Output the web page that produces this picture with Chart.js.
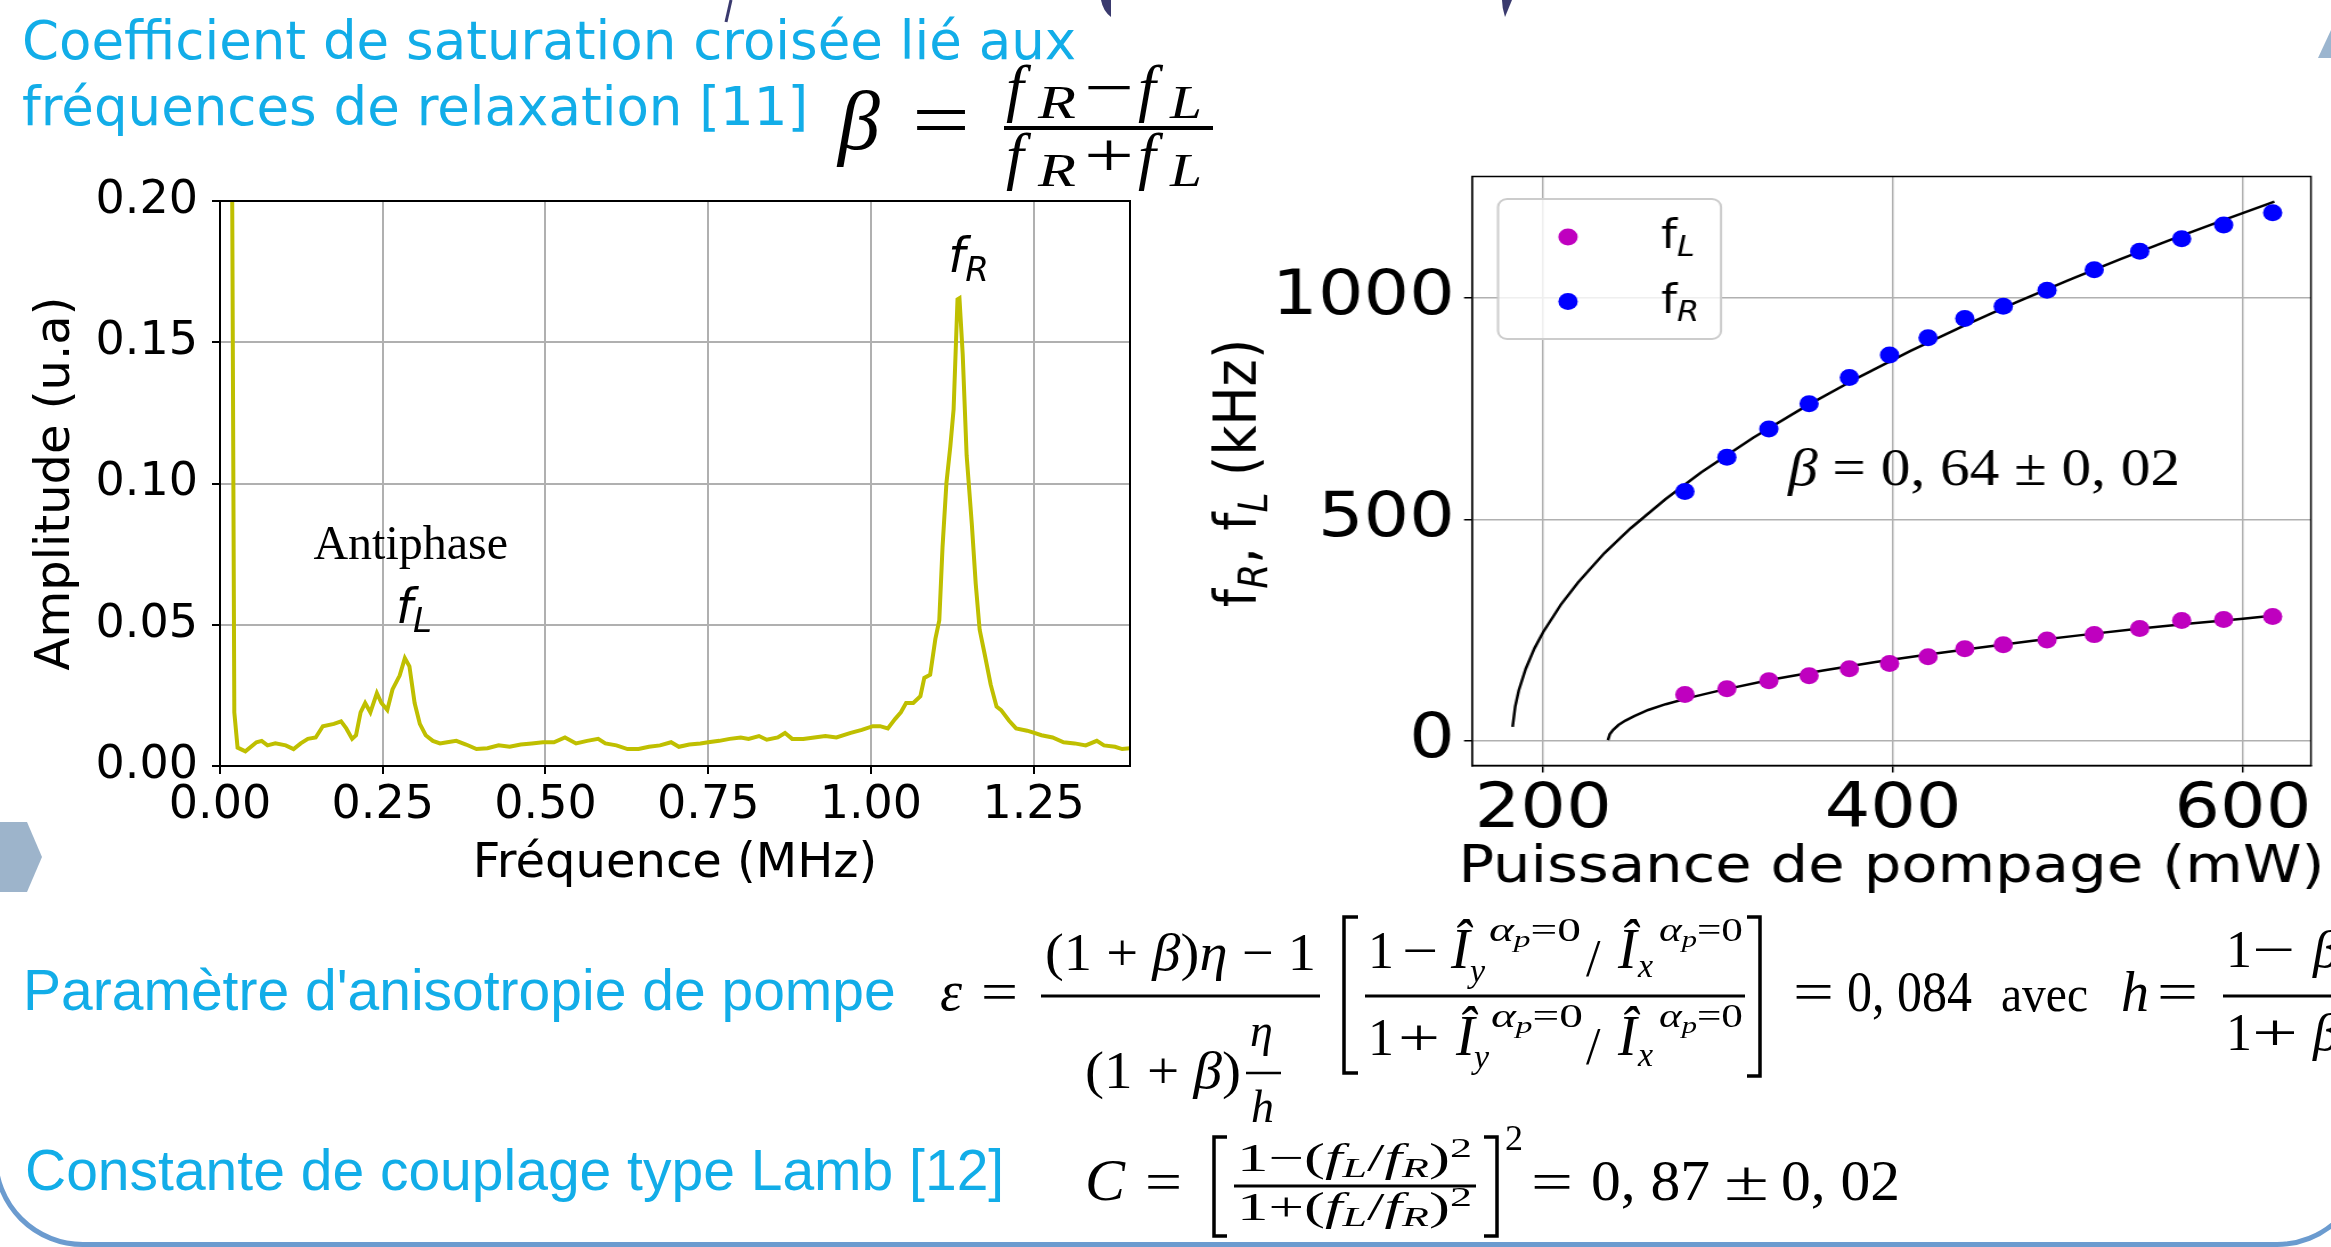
<!DOCTYPE html>
<html lang="fr">
<head>
<meta charset="utf-8">
<title>Coefficient de saturation croisée</title>
<script src="https://cdn.jsdelivr.net/npm/chart.js@4.4.1/dist/chart.umd.min.js"></script>
<style>
  html, body { margin: 0; padding: 0; background: #fff; }
  #slide { position: relative; width: 2331px; height: 1247px; overflow: hidden; background: #fff; }
  .frame { position: absolute; left: -7px; top: -300px; width: 2374px; height: 1547px; box-sizing: border-box;
           border: 5px solid #6b9bcf; border-radius: 90px; }
  #spectrumWrap { position: absolute; left: 0; top: 0; width: 1160px; height: 900px; }
  #powerWrap { position: absolute; left: 1160px; top: 0; width: 1027px; height: 900px;
               transform: scaleX(1.14); transform-origin: 0 0; }
  svg.overlay { position: absolute; left: 0; top: 0; pointer-events: none; }
</style>
</head>
<body>
<div id="slide">
  <div class="frame"></div>

  <div id="spectrumWrap"><canvas id="spectrumChart" width="1160" height="900"></canvas></div>
  <div id="powerWrap"><canvas id="powerChart" width="1027" height="900"></canvas></div>

  <svg class="overlay" width="2331" height="1247" viewBox="0 0 2331 1247">
    <!-- slide decorations -->
    <line x1="731" y1="0" x2="726" y2="22" stroke="#3a3a6e" stroke-width="3"/>
    <path d="M1101,0 L1111,0 L1111,17 Q1103,11 1101,0 Z" fill="#3a3a6e"/>
    <path d="M1502,0 L1512,0 L1505,17 Q1502,8 1502,0 Z" fill="#3a3a6e"/>
    <polygon points="2318,58 2331,30 2331,58" fill="#9bb5cf"/>
    <polygon points="0,822 27,822 42,857 27,892 0,892" fill="#9db4cb"/>

    <!-- titles -->
    <g font-family="DejaVu Sans" font-size="53" fill="#12ade8">
      <text x="22" y="59">Coefficient de saturation croisée lié aux</text>
      <text x="22" y="125">fréquences de relaxation [11]</text>
    </g>
    <g font-family="Liberation Sans" font-size="57" fill="#12ade8">
      <text x="23" y="1010">Paramètre d'anisotropie de pompe</text>
      <text x="25" y="1190">Constante de couplage type Lamb [12]</text>
    </g>

    <g font-family="Liberation Serif" fill="#000" stroke="none">
      <!-- beta = (fR - fL)/(fR + fL) -->
      <text x="838" y="149" font-size="84" font-style="italic">β</text>
      <text x="912" y="147" font-size="80" textLength="58" lengthAdjust="spacingAndGlyphs">=</text>
      <text x="1006" y="109" font-size="64" font-style="italic">f</text>
      <text x="1038" y="118" font-size="46" font-style="italic" textLength="38" lengthAdjust="spacingAndGlyphs">R</text>
      <text x="1084" y="109" font-size="64" textLength="50" lengthAdjust="spacingAndGlyphs">−</text>
      <text x="1138" y="109" font-size="64" font-style="italic">f</text>
      <text x="1170" y="118" font-size="46" font-style="italic" textLength="32" lengthAdjust="spacingAndGlyphs">L</text>
      <line x1="1004" y1="128" x2="1213" y2="128" stroke="#000" stroke-width="4"/>
      <text x="1006" y="177" font-size="64" font-style="italic">f</text>
      <text x="1038" y="186" font-size="46" font-style="italic" textLength="38" lengthAdjust="spacingAndGlyphs">R</text>
      <text x="1084" y="177" font-size="64" textLength="50" lengthAdjust="spacingAndGlyphs">+</text>
      <text x="1138" y="177" font-size="64" font-style="italic">f</text>
      <text x="1170" y="186" font-size="46" font-style="italic" textLength="32" lengthAdjust="spacingAndGlyphs">L</text>

      <!-- epsilon -->
      <text x="940" y="1010" font-size="56" font-style="italic">ε</text>
      <text x="981" y="1010" font-size="54" textLength="37" lengthAdjust="spacingAndGlyphs">=</text>
      <text x="1045" y="970" font-size="52" textLength="271" lengthAdjust="spacingAndGlyphs">(1 + <tspan font-style="italic">β</tspan>)<tspan font-style="italic">η</tspan> − 1</text>
      <line x1="1041" y1="996" x2="1320" y2="996" stroke="#000" stroke-width="3"/>
      <text x="1085" y="1088" font-size="52" textLength="156" lengthAdjust="spacingAndGlyphs">(1 + <tspan font-style="italic">β</tspan>)</text>
      <text x="1250" y="1046" font-size="46" font-style="italic">η</text>
      <line x1="1246" y1="1073" x2="1281" y2="1073" stroke="#000" stroke-width="2.5"/>
      <text x="1251" y="1122" font-size="46" font-style="italic">h</text>
      <path d="M1358,917 H1344 V1073 H1358" fill="none" stroke="#000" stroke-width="3.5"/>
      <line x1="1365" y1="996" x2="1745" y2="996" stroke="#000" stroke-width="3"/>
      <!-- inner numerator -->
      <text x="1368" y="968" font-size="52">1</text>
      <text x="1402" y="968" font-size="52" textLength="36" lengthAdjust="spacingAndGlyphs">−</text>
      <text x="1451" y="968" font-size="56" font-style="italic">Î</text>
      <text x="1489" y="941" font-size="34" textLength="92" lengthAdjust="spacingAndGlyphs"><tspan font-style="italic">α</tspan><tspan font-style="italic" font-size="24" dy="6">p</tspan><tspan dy="-6">=0</tspan></text>
      <text x="1470" y="982" font-size="34" font-style="italic">y</text>
      <text x="1586" y="976" font-size="52">/</text>
      <text x="1618" y="968" font-size="56" font-style="italic">Î</text>
      <text x="1659" y="941" font-size="34" textLength="84" lengthAdjust="spacingAndGlyphs"><tspan font-style="italic">α</tspan><tspan font-style="italic" font-size="24" dy="6">p</tspan><tspan dy="-6">=0</tspan></text>
      <text x="1638" y="977" font-size="34" font-style="italic">x</text>
      <!-- inner denominator -->
      <text x="1368" y="1055" font-size="52">1</text>
      <text x="1398" y="1055" font-size="52" textLength="42" lengthAdjust="spacingAndGlyphs">+</text>
      <text x="1456" y="1055" font-size="56" font-style="italic">Î</text>
      <text x="1491" y="1027" font-size="34" textLength="92" lengthAdjust="spacingAndGlyphs"><tspan font-style="italic">α</tspan><tspan font-style="italic" font-size="24" dy="6">p</tspan><tspan dy="-6">=0</tspan></text>
      <text x="1474" y="1068" font-size="34" font-style="italic">y</text>
      <text x="1586" y="1064" font-size="52">/</text>
      <text x="1618" y="1055" font-size="56" font-style="italic">Î</text>
      <text x="1659" y="1027" font-size="34" textLength="84" lengthAdjust="spacingAndGlyphs"><tspan font-style="italic">α</tspan><tspan font-style="italic" font-size="24" dy="6">p</tspan><tspan dy="-6">=0</tspan></text>
      <text x="1638" y="1066" font-size="34" font-style="italic">x</text>
      <path d="M1747,917 H1760 V1076 H1747" fill="none" stroke="#000" stroke-width="3.5"/>
      <text x="1793" y="1010" font-size="54" textLength="41" lengthAdjust="spacingAndGlyphs">=</text>
      <text x="1847" y="1011" font-size="56" textLength="125" lengthAdjust="spacingAndGlyphs">0, 084</text>
      <text x="2001" y="1011" font-size="50" textLength="87" lengthAdjust="spacingAndGlyphs">avec</text>
      <text x="2121" y="1011" font-size="56" font-style="italic">h</text>
      <text x="2157" y="1010" font-size="54" textLength="41" lengthAdjust="spacingAndGlyphs">=</text>
      <line x1="2223" y1="996" x2="2345" y2="996" stroke="#000" stroke-width="3"/>
      <text x="2226" y="967" font-size="52">1</text>
      <text x="2252" y="967" font-size="52" textLength="43" lengthAdjust="spacingAndGlyphs">−</text>
      <text x="2313" y="967" font-size="52" font-style="italic">β</text>
      <text x="2226" y="1050" font-size="52">1</text>
      <text x="2252" y="1050" font-size="52" textLength="46" lengthAdjust="spacingAndGlyphs">+</text>
      <text x="2313" y="1050" font-size="52" font-style="italic">β</text>

      <!-- Lamb coupling constant -->
      <text x="1085" y="1200" font-size="60" font-style="italic">C</text>
      <text x="1145" y="1200" font-size="54" textLength="37" lengthAdjust="spacingAndGlyphs">=</text>
      <path d="M1227,1137 H1214 V1236 H1227" fill="none" stroke="#000" stroke-width="3.5"/>
      <text x="1237" y="1171" font-size="40" textLength="235" lengthAdjust="spacingAndGlyphs">1−(<tspan font-style="italic">f</tspan><tspan font-style="italic" font-size="28" dy="6">L</tspan><tspan dy="-6">/</tspan><tspan font-style="italic">f</tspan><tspan font-style="italic" font-size="28" dy="6">R</tspan><tspan dy="-6">)</tspan><tspan font-size="28" dy="-14">2</tspan></text>
      <line x1="1234" y1="1186" x2="1476" y2="1186" stroke="#000" stroke-width="3"/>
      <text x="1237" y="1220" font-size="40" textLength="235" lengthAdjust="spacingAndGlyphs">1+(<tspan font-style="italic">f</tspan><tspan font-style="italic" font-size="28" dy="6">L</tspan><tspan dy="-6">/</tspan><tspan font-style="italic">f</tspan><tspan font-style="italic" font-size="28" dy="6">R</tspan><tspan dy="-6">)</tspan><tspan font-size="28" dy="-14">2</tspan></text>
      <path d="M1484,1137 H1497 V1236 H1484" fill="none" stroke="#000" stroke-width="3.5"/>
      <text x="1505" y="1150" font-size="36">2</text>
      <text x="1531" y="1200" font-size="54" textLength="42" lengthAdjust="spacingAndGlyphs">=</text>
      <text x="1591" y="1200" font-size="56" textLength="119" lengthAdjust="spacingAndGlyphs">0, 87</text>
      <text x="1724" y="1200" font-size="56" textLength="45" lengthAdjust="spacingAndGlyphs">±</text>
      <text x="1781" y="1200" font-size="56" textLength="119" lengthAdjust="spacingAndGlyphs">0, 02</text>
    </g>
  </svg>
</div>

<script>
// Spectre de bruit d'intensité (MHz / u.a.)
const spectrumFreq = [
  0.017, 0.022, 0.027, 0.039, 0.056, 0.064, 0.073, 0.085, 0.101, 0.113, 0.124, 0.135, 0.147, 0.158,
  0.175, 0.186, 0.194, 0.203, 0.209, 0.216, 0.223, 0.231, 0.241, 0.248, 0.257, 0.265, 0.276, 0.284,
  0.291, 0.299, 0.307, 0.316, 0.327, 0.338, 0.349, 0.363, 0.378, 0.394, 0.411, 0.428, 0.445, 0.462,
  0.479, 0.496, 0.513, 0.530, 0.547, 0.564, 0.581, 0.592, 0.609, 0.626, 0.643, 0.659, 0.676, 0.693,
  0.705, 0.721, 0.738, 0.750, 0.767, 0.783, 0.800, 0.812, 0.828, 0.840, 0.857, 0.868, 0.879, 0.896,
  0.913, 0.930, 0.947, 0.969, 0.986, 1.003, 1.014, 1.026, 1.037, 1.046, 1.054, 1.065, 1.076, 1.082,
  1.091, 1.099, 1.105, 1.110, 1.116, 1.122, 1.127, 1.133, 1.136, 1.141, 1.147, 1.155, 1.161, 1.167,
  1.175, 1.184, 1.193, 1.200, 1.212, 1.223, 1.240, 1.251, 1.262, 1.279, 1.296, 1.313, 1.330, 1.347,
  1.358, 1.375, 1.386, 1.398,
];
const spectrumAmp = [
  0.300, 0.019, 0.0065, 0.0052, 0.0084, 0.0089, 0.0073, 0.0080, 0.0073, 0.0060, 0.0080, 0.0096, 0.0101, 0.0141,
  0.0149, 0.0158, 0.0133, 0.0096, 0.0109, 0.0190, 0.0223, 0.0190, 0.0258, 0.0223, 0.0198, 0.0271, 0.0320, 0.0382,
  0.0353, 0.0223, 0.0149, 0.0109, 0.0089, 0.0080, 0.0084, 0.0089, 0.0076, 0.0060, 0.0063, 0.0073, 0.0068, 0.0076,
  0.0080, 0.0084, 0.0084, 0.0101, 0.0080, 0.0089, 0.0096, 0.0080, 0.0073, 0.0060, 0.0060, 0.0068, 0.0073, 0.0084,
  0.0068, 0.0076, 0.0080, 0.0084, 0.0089, 0.0096, 0.0101, 0.0096, 0.0106, 0.0093, 0.0101, 0.0117, 0.0096, 0.0096,
  0.0101, 0.0106, 0.0101, 0.0117, 0.0128, 0.0141, 0.0141, 0.0133, 0.0166, 0.0190, 0.0223, 0.0223, 0.0247, 0.0312,
  0.0323, 0.0450, 0.0515, 0.0775, 0.1002, 0.1132, 0.1262, 0.1652, 0.1656, 0.1457, 0.1100, 0.0856, 0.0645, 0.0483,
  0.0393, 0.0288, 0.0210, 0.0198, 0.0161, 0.0133, 0.0125, 0.0117, 0.0109, 0.0101, 0.0084, 0.0080, 0.0073, 0.0089,
  0.0073, 0.0068, 0.0060, 0.0063,
];
const freqTicks = [0, 0.25, 0.5, 0.75, 1.0, 1.25];
const ampTicks = [0, 0.05, 0.1, 0.15, 0.2];

// Fréquences de relaxation en fonction de la puissance de pompe
const pumpPower = [281, 305, 329, 352, 375, 398, 420, 441, 463, 488, 515, 541, 565, 589, 617];
const fLValues = [105, 118, 136, 147, 163, 175, 190, 208, 217, 228, 240, 254, 272, 274, 281];
const fRValues = [563, 640, 704, 761, 820, 871, 910, 953, 981, 1017, 1063, 1105, 1133, 1164, 1192];

// courbes d'ajustement
const fitLPower = [237, 238, 240, 243, 247, 252, 260, 270, 285, 300, 330, 360, 390, 420, 450, 480, 510, 540, 570, 600, 618];
const fitLValues = [2, 15, 25, 36, 46, 56, 70, 83, 99, 113, 138, 159, 178, 195, 211, 226, 240, 253, 265, 276, 283];
const fitRPower = [182.5, 184, 186, 190, 195, 200, 210, 220, 235, 250, 270, 290, 320, 350, 380, 410, 440, 470, 500, 530, 560, 590, 618];
const fitRValues = [32, 78, 114, 163, 209, 246, 307, 358, 424, 480, 546, 605, 684, 755, 820, 880, 936, 989, 1039, 1087, 1133, 1177, 1217];

const powerTicks = [200, 400, 600];
const khzTicks = [0, 500, 1000];

function toPoints(xs, ys) {
  return xs.map((x, i) => ({ x, y: ys[i] }));
}

// draws a run of text pieces one after another (used for subscripts)
function drawRich(ctx, parts, x, y, align) {
  let width = 0;
  parts.forEach(p => {
    ctx.font = p.font;
    width += ctx.measureText(p.text).width;
  });
  let cx = align === 'center' ? x - width / 2 : x;
  parts.forEach(p => {
    ctx.font = p.font;
    ctx.fillText(p.text, cx, y + (p.dy || 0));
    cx += ctx.measureText(p.text).width;
  });
}

const framePlugin = {
  id: 'frame',
  afterDraw(chart, args, opts) {
    const { ctx, chartArea: a } = chart;
    ctx.save();
    ctx.strokeStyle = '#000';
    ctx.lineWidth = opts.width || 2;
    ctx.strokeRect(a.left, a.top, a.right - a.left, a.bottom - a.top);
    ctx.restore();
  },
};

const spectrumLabels = {
  id: 'spectrumLabels',
  afterDraw(chart) {
    const { ctx, scales: { x, y } } = chart;
    const sans = 'italic 48px "DejaVu Sans"';
    const sub = 'italic 34px "DejaVu Sans"';
    ctx.save();
    ctx.fillStyle = '#000';
    ctx.textBaseline = 'alphabetic';
    drawRich(ctx, [{ text: 'f', font: sans }, { text: 'R', font: sub, dy: 9 }],
      x.getPixelForValue(1.15), y.getPixelForValue(0.175), 'center');
    drawRich(ctx, [{ text: 'f', font: sans }, { text: 'L', font: sub, dy: 9 }],
      x.getPixelForValue(0.298), y.getPixelForValue(0.0506), 'center');
    drawRich(ctx, [{ text: 'Antiphase', font: '48px "Liberation Serif"' }],
      x.getPixelForValue(0.293), y.getPixelForValue(0.0733), 'center');
    ctx.restore();
  },
};

const powerDecor = {
  id: 'powerDecor',
  afterDraw(chart) {
    const { ctx, chartArea: a, scales: { x, y } } = chart;
    ctx.save();
    ctx.fillStyle = '#000';
    ctx.textBaseline = 'alphabetic';

    // legend
    ctx.beginPath();
    ctx.roundRect(296.5, 199, 195.6, 140, 8);
    ctx.fillStyle = 'rgba(255,255,255,0.8)';
    ctx.fill();
    ctx.strokeStyle = '#cccccc';
    ctx.lineWidth = 2;
    ctx.stroke();
    [['#bf00bf', 237, 'L'], ['#0000ff', 301.6, 'R']].forEach(([color, cy, idx]) => {
      ctx.beginPath();
      ctx.arc(357.9, cy, 8.5, 0, Math.PI * 2);
      ctx.fillStyle = color;
      ctx.fill();
      ctx.fillStyle = '#000';
      drawRich(ctx, [
        { text: 'f', font: '40px "DejaVu Sans"' },
        { text: idx, font: 'italic 28px "DejaVu Sans"', dy: 8 },
      ], 439.5, cy + 11);
    });

    // beta annotation
    drawRich(ctx, [
      { text: 'β', font: 'italic 52px "Liberation Serif"' },
      { text: ' = 0, 64 ± 0, 02', font: '52px "Liberation Serif"' },
    ], x.getPixelForValue(340), y.getPixelForValue(577));

    // axis titles
    ctx.textBaseline = 'middle';
    drawRich(ctx, [{ text: 'Puissance de pompage (mW)', font: '52px "DejaVu Sans"' }],
      (a.left + a.right) / 2, 868, 'center');
    ctx.translate(66, 473);
    ctx.rotate(-Math.PI / 2);
    ctx.textBaseline = 'alphabetic';
    const big = '52px "DejaVu Sans"';
    const small = 'italic 36px "DejaVu Sans"';
    drawRich(ctx, [
      { text: 'f', font: big },
      { text: 'R', font: small, dy: 10 },
      { text: ', f', font: big },
      { text: 'L', font: small, dy: 10 },
      { text: ' (kHz)', font: big },
    ], 0, 18, 'center');
    ctx.restore();
  },
};

function axisStyle(extra) {
  return Object.assign({
    type: 'linear',
    grid: { color: '#b0b0b0', lineWidth: 2, tickColor: '#000', tickWidth: 2, tickLength: 8 },
    border: { color: '#000', width: 2 },
  }, extra);
}

function init() {
  new Chart(document.getElementById('spectrumChart'), {
    type: 'scatter',
    data: {
      datasets: [{
        data: toPoints(spectrumFreq, spectrumAmp),
        showLine: true,
        borderColor: '#bfbf00',
        borderWidth: 4,
        pointRadius: 0,
        tension: 0,
      }],
    },
    options: {
      responsive: false,
      animation: false,
      events: [],
      layout: { padding: { top: 201, left: 0, right: 30, bottom: 0 } },
      plugins: { legend: { display: false }, tooltip: { enabled: false }, frame: { width: 2 } },
      scales: {
        x: axisStyle({
          min: 0,
          max: 1.398,
          afterBuildTicks: s => { s.ticks = freqTicks.map(v => ({ value: v })); },
          afterFit: s => { s.height = 134; },
          ticks: { color: '#000', font: { family: 'DejaVu Sans', size: 46 }, padding: 4, maxRotation: 0, autoSkip: false,
                   callback: v => v.toFixed(2) },
          title: { display: true, text: 'Fréquence (MHz)', color: '#000', font: { family: 'DejaVu Sans', size: 48 },
                   padding: { top: 0, bottom: 7 } },
        }),
        y: axisStyle({
          min: 0,
          max: 0.2,
          afterBuildTicks: s => { s.ticks = ampTicks.map(v => ({ value: v })); },
          afterFit: s => { s.width = 220; },
          ticks: { color: '#000', font: { family: 'DejaVu Sans', size: 46 }, padding: 14, autoSkip: false,
                   callback: v => v.toFixed(2) },
          title: { display: true, text: 'Amplitude (u.a)', color: '#000', font: { family: 'DejaVu Sans', size: 48 },
                   padding: { top: 28, bottom: 0 } },
        }),
      },
    },
    plugins: [framePlugin, spectrumLabels],
  });

  const thin = { color: '#b0b0b0', lineWidth: 1.5, tickColor: '#000', tickWidth: 1.5, tickLength: 7 };
  new Chart(document.getElementById('powerChart'), {
    type: 'scatter',
    data: {
      datasets: [
        { label: 'fL', data: toPoints(pumpPower, fLValues), backgroundColor: '#bf00bf', pointRadius: 8.5, pointBorderWidth: 0 },
        { label: 'fR', data: toPoints(pumpPower, fRValues), backgroundColor: '#0000ff', pointRadius: 8.5, pointBorderWidth: 0 },
        { data: toPoints(fitLPower, fitLValues), showLine: true, borderColor: '#000', borderWidth: 2.5, pointRadius: 0 },
        { data: toPoints(fitRPower, fitRValues), showLine: true, borderColor: '#000', borderWidth: 2.5, pointRadius: 0 },
      ],
    },
    options: {
      responsive: false,
      animation: false,
      events: [],
      layout: { padding: { top: 176.5, left: 0, right: 17.4, bottom: 0 } },
      plugins: { legend: { display: false }, tooltip: { enabled: false }, frame: { width: 1.5 } },
      scales: {
        x: axisStyle({
          min: 159.3,
          max: 638.9,
          grid: thin,
          border: { color: '#000', width: 1.5 },
          afterBuildTicks: s => { s.ticks = powerTicks.map(v => ({ value: v })); },
          afterFit: s => { s.height = 134.5; },
          ticks: { color: '#000', font: { family: 'DejaVu Sans', size: 63 }, padding: 0, maxRotation: 0, autoSkip: false,
                   callback: v => String(v) },
        }),
        y: axisStyle({
          min: -55.3,
          max: 1273.6,
          grid: thin,
          border: { color: '#000', width: 1.5 },
          afterBuildTicks: s => { s.ticks = khzTicks.map(v => ({ value: v })); },
          afterFit: s => { s.width = 273.7; },
          ticks: { color: '#000', font: { family: 'DejaVu Sans', size: 63 }, padding: 8, autoSkip: false,
                   callback: v => String(v) },
        }),
      },
    },
    plugins: [framePlugin, powerDecor],
  });
}

document.addEventListener('DOMContentLoaded', init);
</script>
</body>
</html>
